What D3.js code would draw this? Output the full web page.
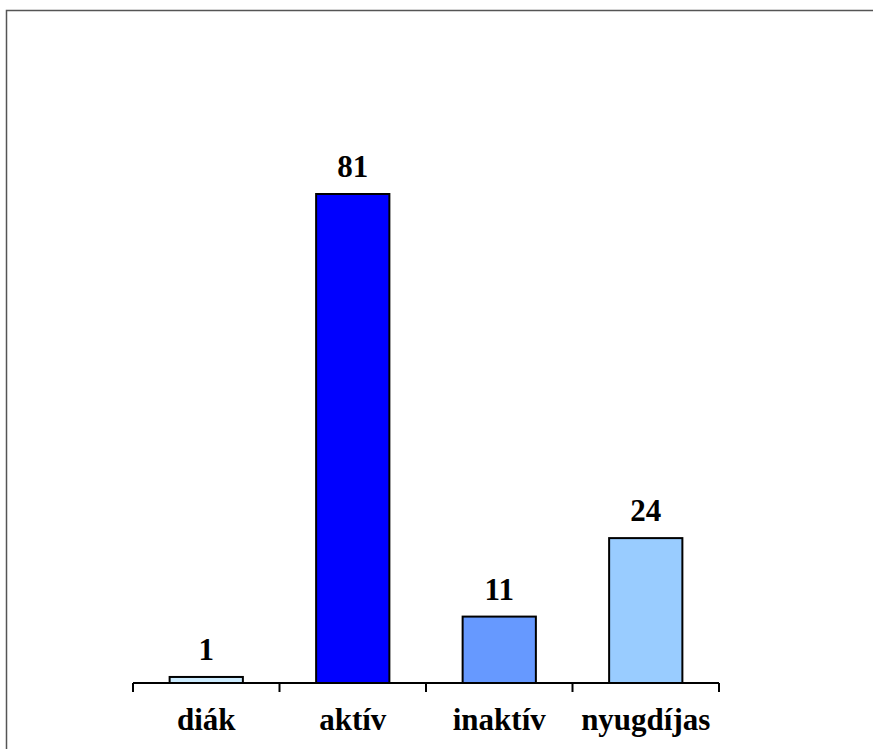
<!DOCTYPE html>
<html>
<head>
<meta charset="utf-8">
<script src="https://cdn.jsdelivr.net/npm/d3@7"></script>
<style>
  body { margin: 0; background: #fff; }
</style>
</head>
<body>
<script>
const categories = ["diák", "aktív", "inaktív", "nyugdíjas"];
const values = [1, 81, 11, 24];
const colors = ["#CCECFF", "#0000FF", "#6699FF", "#99CCFF"];

const w = 873;
const h = 749;
const baseline = 683;

const svg = d3.select("body")
  .append("svg")
  .attr("width", w)
  .attr("height", h);

// outer frame (cut off at right and bottom)
svg.append("rect")
  .attr("x", 6.5)
  .attr("y", 10.5)
  .attr("width", w + 20)
  .attr("height", h + 20)
  .attr("fill", "none")
  .attr("stroke", "#555")
  .attr("stroke-width", 1.5);

const x = d3.scaleBand()
  .domain(categories)
  .range([133, 719])
  .paddingInner(0.5)
  .paddingOuter(0.25);

const y = d3.scaleLinear()
  .domain([0, 81])
  .range([baseline, 194]);

// bars
svg.selectAll(".bar")
  .data(values)
  .enter()
  .append("rect")
  .attr("class", "bar")
  .attr("x", (d, i) => x(categories[i]))
  .attr("y", (d) => y(d))
  .attr("width", x.bandwidth())
  .attr("height", (d) => baseline - y(d))
  .attr("fill", (d, i) => colors[i])
  .attr("stroke", "#000")
  .attr("stroke-width", 2);

// value labels
svg.selectAll(".val")
  .data(values)
  .enter()
  .append("text")
  .attr("class", "val")
  .attr("x", (d, i) => x(categories[i]) + x.bandwidth() / 2)
  .attr("y", (d) => y(d) - 17)
  .attr("text-anchor", "middle")
  .attr("font-family", "Liberation Serif")
  .attr("font-weight", "bold")
  .attr("font-size", 31)
  .text((d) => d);

// x axis: line with ticks at category boundaries
const step = x.step();
const bounds = categories.map((c) => x(c) - step * x.paddingInner() / 2)
  .concat([x(categories[categories.length - 1]) + x.bandwidth() + step * x.paddingInner() / 2]);

const axis = svg.append("g").attr("id", "x-axis");
axis.append("line")
  .attr("x1", bounds[0])
  .attr("x2", bounds[bounds.length - 1])
  .attr("y1", baseline)
  .attr("y2", baseline)
  .attr("stroke", "#000")
  .attr("stroke-width", 2);
axis.selectAll(".tick")
  .data(bounds)
  .enter()
  .append("line")
  .attr("class", "tick")
  .attr("x1", (d) => d)
  .attr("x2", (d) => d)
  .attr("y1", baseline)
  .attr("y2", baseline + 9)
  .attr("stroke", "#000")
  .attr("stroke-width", 2);

axis.selectAll(".cat")
  .data(categories)
  .enter()
  .append("text")
  .attr("class", "cat")
  .attr("x", (d) => x(d) + x.bandwidth() / 2)
  .attr("y", 730)
  .attr("text-anchor", "middle")
  .attr("font-family", "Liberation Serif")
  .attr("font-weight", "bold")
  .attr("font-size", 31)
  .text((d) => d);
</script>
</body>
</html>
